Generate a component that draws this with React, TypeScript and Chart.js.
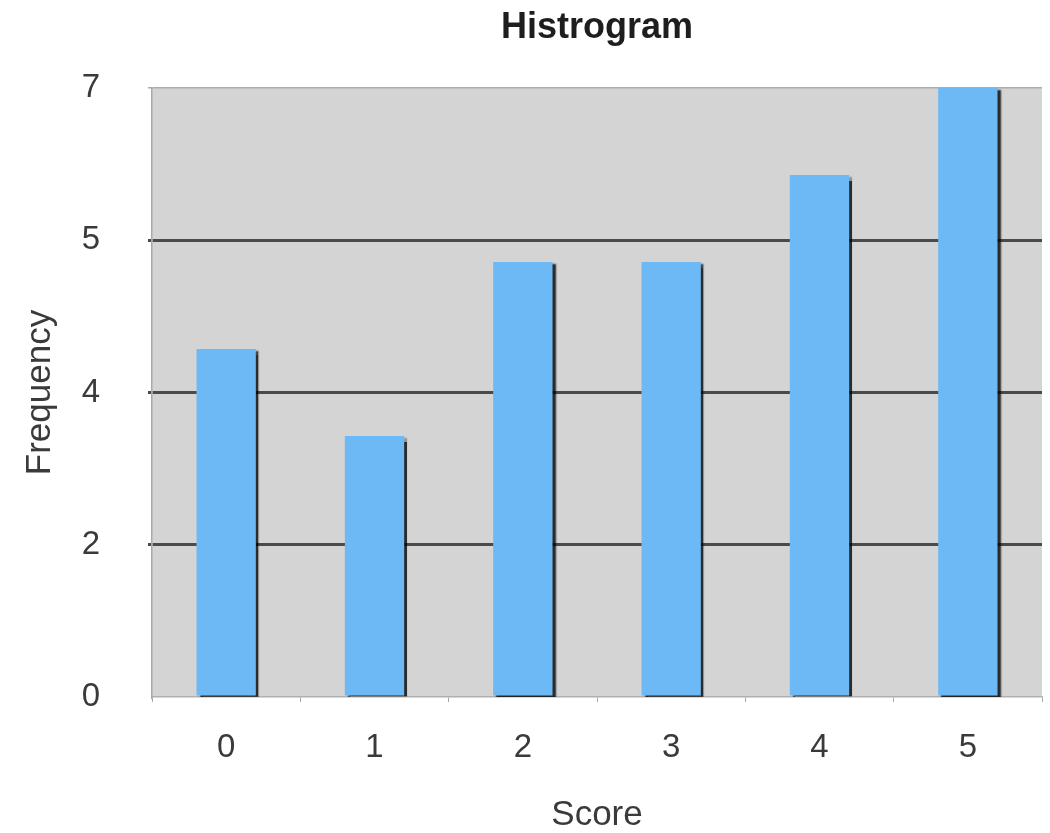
import React, { useEffect, useRef } from "react";
import { Chart, registerables } from "chart.js";

Chart.register(...registerables);

const categories = ["0", "1", "2", "3", "4", "5"];
const frequencies = [4, 3, 5, 5, 6, 7];
const yTickValues = [0, 1.75, 3.5, 5.25, 7];
const yTickLabels = ["0", "2", "4", "5", "7"];
const titleText = "Histrogram";
const xTitle = "Score";
const yTitle = "Frequency";

const FONT = "'Liberation Sans', Arial, Helvetica, sans-serif";

const plotBgPlugin = {
  id: "plotBg",
  beforeDraw(chart: any) {
    const { ctx, chartArea } = chart;
    ctx.save();
    ctx.fillStyle = "#d4d4d4";
    ctx.fillRect(chartArea.left, chartArea.top, chartArea.right - chartArea.left, chartArea.bottom - chartArea.top);
    ctx.restore();
  },
};

const shadowPlugin = {
  id: "barShadow",
  beforeDatasetsDraw(chart: any) {
    const ctx = chart.ctx;
    ctx.save();
    ctx.shadowColor = "rgba(0,0,0,0.8)";
    ctx.shadowOffsetX = 3;
    ctx.shadowOffsetY = 2;
    ctx.shadowBlur = 1.5;
  },
  afterDatasetsDraw(chart: any) {
    chart.ctx.restore();
  },
};

const centeredTitlePlugin = {
  id: "centeredTitle",
  afterDraw(chart: any) {
    const { ctx, chartArea } = chart;
    ctx.save();
    ctx.font = `bold 36px ${FONT}`;
    ctx.fillStyle = "#1e1e1e";
    ctx.textAlign = "center";
    ctx.textBaseline = "middle";
    ctx.fillText(titleText, (chartArea.left + chartArea.right) / 2, 28);
    ctx.restore();
  },
};

export default function App() {
  const ref = useRef<HTMLCanvasElement | null>(null);

  useEffect(() => {
    if (!ref.current) return;
    const chart = new Chart(ref.current, {
      type: "bar",
      data: {
        labels: categories,
        datasets: [
          {
            data: frequencies,
            backgroundColor: "#6cb9f6",
            borderWidth: 0,
            barPercentage: 0.4,
            categoryPercentage: 1,
          },
        ],
      },
      options: {
        animation: false,
        responsive: false,
        maintainAspectRatio: false,
        layout: { padding: { left: 20, right: 8, top: 88, bottom: 0 } },
        plugins: {
          legend: { display: false },
          title: { display: false },
          tooltip: { enabled: false },
        },
        scales: {
          x: {
            afterFit(scale: any) {
              scale.height = 136;
            },
            grid: {
              display: true,
              drawOnChartArea: false,
              drawTicks: true,
              tickLength: 5,
              color: "#a8a8a8",
              offset: true,
            },
            border: { display: true, color: "#b0b0b0", width: 1.5 },
            ticks: {
              font: { family: FONT, size: 33 },
              color: "#3a3a3a",
              padding: 26,
              maxRotation: 0,
            },
            title: {
              display: true,
              text: xTitle,
              font: { family: FONT, size: 35, lineHeight: 1.0 },
              color: "#3a3a3a",
              padding: { top: 0, bottom: 0 },
            },
          },
          y: {
            min: 0,
            max: 7,
            afterBuildTicks(scale: any) {
              scale.ticks = yTickValues.map((v) => ({ value: v }));
            },
            afterFit(scale: any) {
              scale.width = 132;
            },
            grid: {
              color: (c: any) =>
                c.tick && c.tick.value === 0
                  ? "rgba(0,0,0,0)"
                  : c.tick && c.tick.value === 7
                  ? "#acacac"
                  : "#4a4a4a",
              lineWidth: (c: any) => (c.tick && c.tick.value === 7 ? 1.5 : 3),
              tickLength: 4,
              drawTicks: true,
            },
            border: { display: true, color: "#a8a8a8", width: 1.5 },
            ticks: {
              font: { family: FONT, size: 33 },
              color: "#3a3a3a",
              padding: 48,
              callback: (_v: any, i: number) => yTickLabels[i],
            },
            title: {
              display: true,
              text: yTitle,
              font: { family: FONT, size: 35, lineHeight: 1.0 },
              color: "#3a3a3a",
              padding: { top: 3, bottom: 20 },
            },
          },
        },
      },
      plugins: [plotBgPlugin, shadowPlugin, centeredTitlePlugin],
    });
    return () => chart.destroy();
  }, []);

  return (
    <div style={{ position: "fixed", left: 0, top: 0, width: 1050, height: 833, background: "#fff" }}>
      <canvas ref={ref} width={1050} height={833} style={{ display: "block" }} />
    </div>
  );
}
